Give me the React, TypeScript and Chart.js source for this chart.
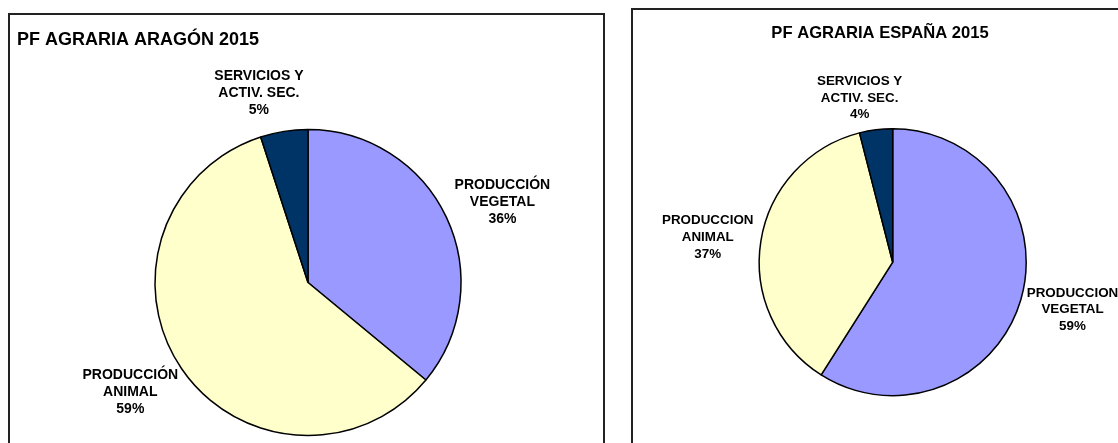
import React, { useEffect, useRef } from "react";
import { Chart, registerables } from "chart.js";

Chart.register(...registerables);

// ---------- data ----------
const aragonTitle = "PF AGRARIA ARAGÓN 2015";
const aragonCategories = [
  ["PRODUCCIÓN", "VEGETAL"],
  ["PRODUCCIÓN", "ANIMAL"],
  ["SERVICIOS Y", "ACTIV. SEC."],
];
const aragonValues = [36, 59, 5];

const espanaTitle = "PF AGRARIA ESPAÑA 2015";
const espanaCategories = [
  ["PRODUCCION", "VEGETAL"],
  ["PRODUCCION", "ANIMAL"],
  ["SERVICIOS Y", "ACTIV. SEC."],
];
const espanaValues = [59, 37, 4];

const sliceColors = ["#9999FF", "#FFFFCC", "#003366"];

const FONT = '"Liberation Sans", Arial, Helvetica, sans-serif';

// ---------- plugin: outside labels + title ----------
const pieText = {
  id: "pieText",
  afterDatasetsDraw(chart: any, _args: any, opts: any) {
    const ctx = chart.ctx as CanvasRenderingContext2D;
    const meta = chart.getDatasetMeta(0);
    const data = chart.data.datasets[0].data as number[];
    const total = data.reduce((a, b) => a + b, 0);
    ctx.save();
    ctx.fillStyle = "#000";
    ctx.font = `bold ${opts.fontSize}px ${FONT}`;
    ctx.textAlign = "center";
    ctx.textBaseline = "alphabetic";
    meta.data.forEach((arc: any, i: number) => {
      const { x, y, startAngle, endAngle, outerRadius } = arc.getProps(
        ["x", "y", "startAngle", "endAngle", "outerRadius"],
        true
      );
      const mid = (startAngle + endAngle) / 2;
      const dx = Math.cos(mid);
      const dy = Math.sin(mid);
      const label = chart.data.labels[i];
      const lines: string[] = [
        ...(Array.isArray(label) ? label : [label]),
        Math.round((data[i] / total) * 100) + "%",
      ];
      const w = Math.max(...lines.map((l) => ctx.measureText(l).width));
      const h = lines.length * opts.lineHeight;
      const px = x + dx * (outerRadius + opts.gap);
      const py = y + dy * (outerRadius + opts.gap);
      const cx = px + (dx * w) / 2 + ((opts.shiftX && opts.shiftX[i]) || 0);
      const cy = py + (dy * h) / 2;
      lines.forEach((l, k) => {
        const lc = cy + (k - (lines.length - 1) / 2) * opts.lineHeight;
        ctx.fillText(l, cx, lc + opts.fontSize * 0.358);
      });
    });
    ctx.font = `bold ${opts.titleSize}px ${FONT}`;
    ctx.textAlign = opts.titleAlign;
    ctx.fillText(opts.title, opts.titleX, opts.titleY);
    ctx.restore();
  },
};

type PieProps = {
  width: number;
  height: number;
  left: number;
  categories: string[][];
  values: number[];
  radius: number;
  padding: { left: number; right: number; top: number; bottom: number };
  text: any;
};

function PieCanvas(p: PieProps) {
  const ref = useRef<HTMLCanvasElement | null>(null);
  useEffect(() => {
    if (!ref.current) return;
    const chart = new Chart(ref.current, {
      type: "pie",
      data: {
        labels: p.categories,
        datasets: [
          {
            data: p.values,
            backgroundColor: sliceColors,
            borderColor: "#000000",
            borderWidth: 1.5,
          },
        ],
      },
      options: {
        responsive: false,
        animation: false,
        devicePixelRatio: 1,
        radius: p.radius,
        layout: { padding: p.padding },
        plugins: {
          legend: { display: false },
          tooltip: { enabled: false },
          title: { display: false },
          pieText: p.text,
        } as any,
      } as any,
      plugins: [pieText],
    });
    return () => chart.destroy();
  }, []);
  return (
    <canvas
      ref={ref}
      width={p.width}
      height={p.height}
      style={{ position: "absolute", left: p.left, top: 0, width: p.width, height: p.height }}
    />
  );
}

export default function App() {
  return (
    <div
      style={{
        position: "fixed",
        left: 0,
        top: 0,
        width: 1118,
        height: 443,
        overflow: "hidden",
        background: "#ffffff",
      }}
    >
      <PieCanvas
        width={620}
        height={443}
        left={0}
        categories={aragonCategories}
        values={aragonValues}
        radius={153}
        padding={{ left: 153, right: 157, top: 127.5, bottom: 5.5 }}
        text={{
          fontSize: 14,
          lineHeight: 17,
          gap: 14,
          shiftX: [0, 0, -16],
          title: aragonTitle,
          titleSize: 18,
          titleAlign: "left",
          titleX: 17,
          titleY: 45,
        }}
      />
      <PieCanvas
        width={498}
        height={443}
        left={620}
        categories={espanaCategories}
        values={espanaValues}
        radius={133.5}
        padding={{ left: 132.7, right: 85.3, top: 122.2, bottom: 40.8 }}
        text={{
          fontSize: 13.4,
          lineHeight: 16.7,
          gap: 8,
          shiftX: [0, 0, -10],
          title: espanaTitle,
          titleSize: 16.6,
          titleAlign: "center",
          titleX: 260,
          titleY: 38.3,
        }}
      />
      <div
        style={{
          position: "absolute",
          left: 8,
          top: 13,
          width: 597,
          height: 460,
          boxSizing: "border-box",
          border: "2px solid #222",
          pointerEvents: "none",
        }}
      />
      <div
        style={{
          position: "absolute",
          left: 631,
          top: 8,
          width: 600,
          height: 460,
          boxSizing: "border-box",
          border: "2px solid #222",
          pointerEvents: "none",
        }}
      />
    </div>
  );
}
